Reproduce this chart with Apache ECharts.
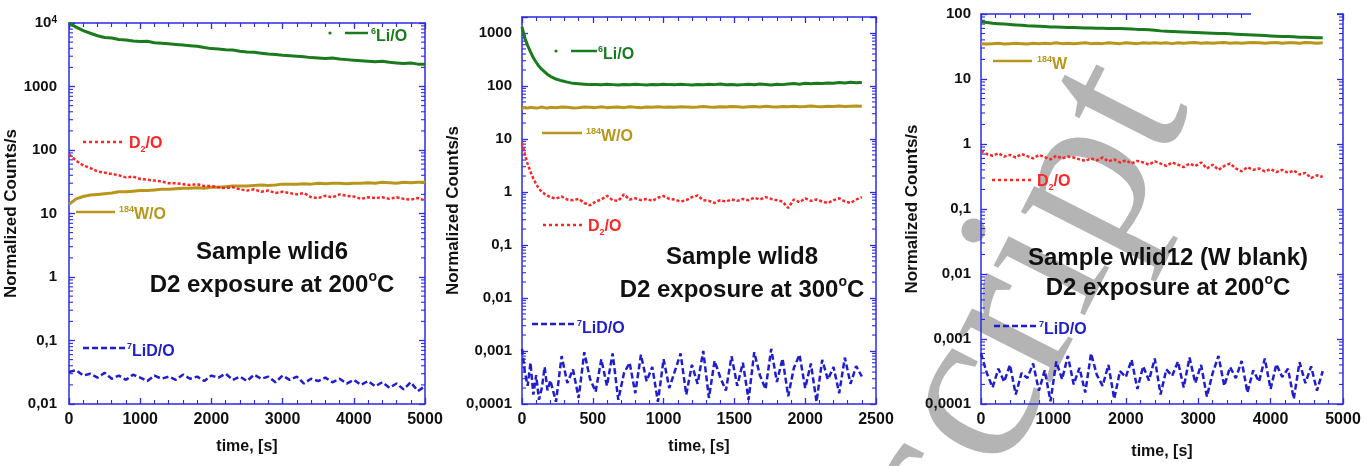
<!DOCTYPE html>
<html>
<head>
<meta charset="utf-8">
<title>Normalized counts vs time</title>
<script src="https://cdn.jsdelivr.net/npm/echarts@6/dist/echarts.min.js"></script>
<style>
  html, body { margin: 0; padding: 0; background: #ffffff; }
  #chart { width: 1367px; height: 466px; }
</style>
</head>
<body>
<div id="chart"></div>
<script>
// ---- Sample wlid6, D2 exposure at 200 C ----
const time1 = [0,100,200,300,400,500,600,700,800,900,1000,1100,1200,1300,1400,1500,1600,1700,1800,1900,2000,2100,2200,2300,2400,2500,2600,2700,2800,2900,3000,3100,3200,3300,3400,3500,3600,3700,3800,3900,4000,4100,4200,4300,4400,4500,4600,4700,4800,4900,5000];
const li6_1 = [10000,8600,7600,6900,6300,5900,5800,5500,5400,5200,5100,5150,4900,4800,4700,4600,4500,4400,4300,4100,3950,3900,3800,3750,3600,3500,3450,3350,3250,3200,3100,3050,3000,2950,2850,2800,2750,2800,2700,2650,2600,2550,2500,2450,2500,2400,2350,2300,2350,2250,2250];
const d2o_1 = [85,68,57,52,46,44,42,40,37,38,35,34,33,32,30,30,29,28,29,27,27,26,25,26,24,23,24,22,23,21,22,21,20,21,18,17.5,19,18,20,19,18.5,17,18,17.5,18,17,18,17,16.5,17.5,16];
const w184_1 = [14,17,18.5,19.5,20,20.5,21,22,22,22.5,23,23,23.5,24,24,24.5,25,25,25.5,25,26,26,26.5,27,27,27,27.5,28,27.5,28,29,29,29,29.5,29,30,29.5,30,30,29.5,30,30,30.5,30,31,30.5,30,31,30.5,31,31];
const lid7_1 = [0.032,0.034,0.028,0.030,0.026,0.031,0.025,0.028,0.024,0.029,0.026,0.023,0.028,0.025,0.027,0.024,0.029,0.025,0.027,0.023,0.028,0.026,0.030,0.024,0.027,0.023,0.029,0.025,0.027,0.022,0.028,0.024,0.027,0.021,0.025,0.023,0.026,0.022,0.025,0.021,0.024,0.020,0.023,0.019,0.022,0.018,0.021,0.017,0.022,0.016,0.019];

// ---- Sample wlid8, D2 exposure at 300 C ----
const time2 = [0,20,40,60,80,100,120,140,160,180,200,240,280,320,360,400,440,480,520,560,600,640,680,720,760,800,840,880,920,960,1000,1040,1080,1120,1160,1200,1240,1280,1320,1360,1400,1440,1480,1520,1560,1600,1640,1680,1720,1760,1800,1840,1880,1920,1960,2000,2040,2080,2120,2160,2200,2240,2280,2320,2360,2400];
const li6_2 = [1300,800,580,440,340,280,235,205,185,165,152,135,125,118,112,110,108,106,107,105,108,106,104,107,105,108,106,104,107,105,108,106,105,108,106,104,107,105,108,106,109,105,107,104,106,108,105,109,107,104,108,106,109,111,108,112,110,113,111,114,112,116,114,117,115,116];
const w184_2 = [38,39,38.5,39.5,39,38.5,39,40,39,38.5,39.5,39,40,39.5,38.5,39,40,39.5,39,40.5,39,39.5,40,39,40.5,39.5,39,40,39.5,40.5,39.5,40,39.5,40.5,40,39.5,40,41,40,39.5,40.5,40,41,40.5,39.5,40.5,41,40,41.5,40.5,40,41,40.5,41.5,40.5,41,42,41,40.5,41.5,41,42,41,41.5,42,41.5];
const d2o_2 = [8.5,5.2,3.4,2.4,1.8,1.4,1.15,1.0,0.92,0.85,0.8,0.75,0.82,0.72,0.7,0.74,0.62,0.56,0.66,0.72,0.85,0.7,0.68,0.9,0.72,0.76,0.7,0.74,0.68,0.78,0.84,0.74,0.72,0.66,0.7,0.8,0.86,0.7,0.68,0.62,0.7,0.66,0.72,0.68,0.74,0.7,0.78,0.72,0.8,0.74,0.7,0.66,0.5,0.72,0.64,0.76,0.68,0.72,0.66,0.62,0.7,0.76,0.66,0.62,0.72,0.8];
const lid7_2 = [0.0011,0.0004,0.00022,0.0006,0.00015,0.00035,0.00012,0.0002,0.0005,0.00018,0.00028,0.00011,0.0008,0.00025,0.00045,0.00013,0.00095,0.0003,0.00017,0.0007,0.00022,0.0009,0.00012,0.00038,0.0006,0.00016,0.00085,0.00027,0.0005,0.00011,0.0007,0.0002,0.00042,0.0009,0.00015,0.00055,0.00024,0.001,0.00013,0.00065,0.00032,0.00018,0.0008,0.00022,0.0006,0.00012,0.00095,0.00035,0.00019,0.0011,0.00026,0.00072,0.00014,0.00048,0.00085,0.0002,0.00058,0.00011,0.00068,0.00029,0.0005,0.00016,0.00075,0.00024,0.00052,0.00033];

// ---- Sample wlid12 (W blank), D2 exposure at 200 C ----
const time3 = [0,80,160,240,320,400,480,560,640,720,800,880,960,1040,1120,1200,1280,1360,1440,1520,1600,1680,1760,1840,1920,2000,2080,2160,2240,2320,2400,2480,2560,2640,2720,2800,2880,2960,3040,3120,3200,3280,3360,3440,3520,3600,3680,3760,3840,3920,4000,4080,4160,4240,4320,4400,4480,4560,4640,4720];
const li6_3 = [76,74,72,71,70,69,68,67,66,65.5,65,64,63,63,62.5,62,62,61.5,61,61,60.5,60.5,60,60,60,59.5,59,58,57.5,57,56,55,54.5,54,53.5,53,52.5,52,51.5,51,50.5,50,50,49.5,49,48.5,48,47.5,47,46.5,46,45.5,45,45,44.5,44,44,43.5,43,43];
const w184_3 = [35,34.5,35,35.5,34.5,35,35.5,35,34.5,35.5,35,35.5,35,36,35,35.5,35,35.5,36,35,35.5,35,36,35.5,35,36,35.5,35,36,35.5,36,35.5,36,35,36,35.5,36,36.5,35.5,36,35.5,36,36.5,35.5,36,35.5,36,36.5,36,35.5,36,36.5,35.5,36,36,35.5,36.5,36,35.5,36];
const d2o_3 = [0.78,0.7,0.66,0.72,0.64,0.68,0.62,0.7,0.65,0.6,0.68,0.63,0.58,0.66,0.6,0.64,0.62,0.58,0.55,0.6,0.56,0.62,0.54,0.58,0.52,0.56,0.5,0.55,0.52,0.48,0.54,0.5,0.46,0.52,0.48,0.44,0.5,0.46,0.52,0.42,0.48,0.4,0.46,0.5,0.42,0.38,0.44,0.4,0.42,0.38,0.41,0.37,0.4,0.36,0.39,0.34,0.36,0.3,0.33,0.31];
const lid7_3 = [0.0006,0.0003,0.00018,0.00035,0.00022,0.0004,0.00014,0.0003,0.00025,0.00042,0.00016,0.00033,0.00011,0.00045,0.00024,0.00055,0.0002,0.00036,0.00015,0.0006,0.00028,0.00019,0.0004,0.00012,0.00032,0.00026,0.00048,0.00017,0.00038,0.00023,0.0005,0.00014,0.00034,0.00027,0.00045,0.00018,0.00052,0.00021,0.0004,0.00013,0.0003,0.00055,0.00019,0.00037,0.00025,0.00046,0.00015,0.00033,0.00022,0.0005,0.00017,0.00041,0.00026,0.00035,0.00012,0.00044,0.00021,0.00038,0.00016,0.00032];

// Panel captions
const captions = [
  ['Sample wlid6', 'D2 exposure at 200'],
  ['Sample wlid8', 'D2 exposure at 300'],
  ['Sample wlid12 (W blank)', 'D2 exposure at 200']
];

// Mantissas of the minor ticks inside each decade of the log axes
const minorMantissas = [2, 3, 4, 5, 6, 7, 8, 9];

const FONT = "'Liberation Sans', Arial, sans-serif";
const AXIS_BLUE = '#2b2be6';
const C_LI6 = '#1c7a1e';
const C_W = '#b8961c';
const C_D2 = '#ff2424';
const C_LID = '#1e1ecc';

const panels = [
  { grid: { left: 69, top: 23, width: 356, height: 381 }, xMax: 5000, xInt: 1000, yMin: 0.01, yMax: 10000,
    labelMargin: 12, yNameGap: 43, xNameGap: 35,
    time: time1, li6: li6_1, w: w184_1, d2: d2o_1, lid: lid7_1 },
  { grid: { left: 522, top: 17, width: 354, height: 387 }, xMax: 2500, xInt: 500, yMin: 0.0001, yMax: 2000,
    labelMargin: 10, yNameGap: 51, xNameGap: 35,
    time: time2, li6: li6_2, w: w184_2, d2: d2o_2, lid: lid7_2 },
  { grid: { left: 981, top: 14, width: 362, height: 390 }, xMax: 5000, xInt: 1000, yMin: 0.0001, yMax: 100,
    labelMargin: 10, yNameGap: 47, xNameGap: 40,
    time: time3, li6: li6_3, w: w184_3, d2: d2o_3, lid: lid7_3 }
];

// Decimal comma labels for the log axis, 10^4 written with an exponent
function logLabel(v) {
  const lg = Math.log10(v);
  const e = Math.round(lg);
  if (Math.abs(lg - e) > 1e-6) return '';
  if (e >= 4) return '10{sup|' + e + '}';
  if (e >= 0) return String(Math.pow(10, e));
  return Math.pow(10, e).toFixed(-e).replace('.', ',');
}

// Values of the 2..9 x 10^k minor ticks that fall inside an axis range
function logMinorValues(min, max) {
  const out = [];
  for (let e = Math.floor(Math.log10(min)); e <= Math.ceil(Math.log10(max)); e++) {
    minorMantissas.forEach(m => {
      const v = m * Math.pow(10, e);
      if (v > min * 1.0001 && v < max * 0.9999) out.push(v);
    });
  }
  return out;
}

const tickCommon = {
  axisLine: { show: true, onZero: false, lineStyle: { color: AXIS_BLUE, width: 1.5 } },
  axisTick: { show: true, inside: true, length: 6, lineStyle: { color: AXIS_BLUE, width: 1.3 } },
  splitLine: { show: false },
  minorSplitLine: { show: false }
};

const grids = [], xAxes = [], yAxes = [], series = [];

panels.forEach((p, i) => {
  grids.push(Object.assign({ containLabel: false }, p.grid));
  const xBase = Object.assign({}, tickCommon, {
    gridIndex: i, type: 'value', min: 0, max: p.xMax, interval: p.xInt,
    minorTick: { show: true, splitNumber: 5, length: 4, lineStyle: { color: AXIS_BLUE, width: 1.1 } }
  });
  xAxes.push(Object.assign({}, xBase, {
    position: 'bottom',
    axisLabel: { color: '#111', fontFamily: FONT, fontWeight: 'bold', fontSize: 16, margin: 8,
                 formatter: v => String(v) },
    name: 'time, [s]', nameLocation: 'middle', nameGap: p.xNameGap,
    nameTextStyle: { color: '#111', fontFamily: FONT, fontWeight: 'bold', fontSize: 16 }
  }));
  xAxes.push(Object.assign({}, xBase, { position: 'top', axisLabel: { show: false } }));

  const yBase = Object.assign({}, tickCommon, {
    gridIndex: i, type: 'log', logBase: 10, min: p.yMin, max: p.yMax,
    minorTick: { show: false }
  });
  yAxes.push(Object.assign({}, yBase, {
    position: 'left',
    axisLabel: {
      color: '#111', fontFamily: FONT, fontWeight: 'bold', fontSize: 15, margin: p.labelMargin,
      formatter: logLabel,
      rich: { sup: { fontSize: 10, fontWeight: 'bold', fontFamily: FONT, color: '#111', verticalAlign: 'top', lineHeight: 10 } }
    },
    name: 'Normalized Counts/s', nameLocation: 'middle', nameGap: p.yNameGap, nameRotate: 90,
    nameTextStyle: { color: '#111', fontFamily: FONT, fontWeight: 'bold', fontSize: 17 }
  }));
  yAxes.push(Object.assign({}, yBase, { position: 'right', axisLabel: { show: false } }));

  const ax = i * 2;

  // log-spaced minor ticks on the left and right frame edges
  series.push({
    type: 'custom', xAxisIndex: ax, yAxisIndex: ax, silent: true, z: 1,
    data: logMinorValues(p.yMin, p.yMax).map(v => [0, v]),
    renderItem: (params, api) => {
      const v = api.value(1);
      const l = api.coord([0, v]);
      const r = api.coord([p.xMax, v]);
      const st = { stroke: AXIS_BLUE, lineWidth: 1.1 };
      return { type: 'group', children: [
        { type: 'line', shape: { x1: l[0], y1: l[1], x2: l[0] + 4, y2: l[1] }, style: st },
        { type: 'line', shape: { x1: r[0] - 4, y1: r[1], x2: r[0], y2: r[1] }, style: st }
      ] };
    }
  });

  const mk = (name, vals, color, width, type) => ({
    name: name, type: 'line', xAxisIndex: ax, yAxisIndex: ax,
    data: p.time.map((t, k) => [t, vals[k]]),
    showSymbol: false, symbol: 'none', z: 3,
    lineStyle: { color: color, width: width, type: type },
    itemStyle: { color: color }
  });
  series.push(mk('6Li/O', p.li6, C_LI6, 3, 'solid'));
  series.push(mk('184W/O', p.w, C_W, 3, 'solid'));
  series.push(mk('D2/O', p.d2, C_D2, 2.5, [3, 2]));
  series.push(mk('7LiD/O', p.lid, C_LID, 2.5, [6, 3]));
});

// Inline legend entries: sample line followed by the species label
const richLbl = {
  n: { fontSize: 16, fontWeight: 'bold', fontFamily: FONT, lineHeight: 20, verticalAlign: 'middle' },
  sup: { fontSize: 9, fontWeight: 'bold', fontFamily: FONT, lineHeight: 9, verticalAlign: 'top' },
  sub: { fontSize: 9, fontWeight: 'bold', fontFamily: FONT, lineHeight: 9, verticalAlign: 'bottom' }
};
function legendEntry(x1, x2, y, color, dash, label, tx, ty, dotX) {
  const children = [
    { type: 'line', shape: { x1: x1, y1: y, x2: x2, y2: y },
      style: { stroke: color, lineWidth: 2.5, lineDash: dash } },
    { type: 'text', x: tx, y: ty,
      style: { text: label, rich: richLbl, fill: color, font: 'bold 16px ' + FONT, verticalAlign: 'middle', align: 'left' } }
  ];
  if (dotX != null) {
    children.push({ type: 'circle', shape: { cx: dotX, cy: y, r: 1.6 }, style: { fill: color } });
  }
  return { type: 'group', z: 10, children: children };
}

const LBL_LI6 = '{sup|6}{n|Li/O}';
const LBL_W = '{sup|184}{n|W/O}';
const LBL_D2 = '{n|D}{sub|2}{n|/O}';
const LBL_LID = '{sup|7}{n|LiD/O}';

const legendGraphics = [
  legendEntry(345, 368, 33, C_LI6, null, LBL_LI6, 371, 37, 330),
  legendEntry(83, 125, 142, C_D2, [3, 3], LBL_D2, 129, 144),
  legendEntry(76, 115, 212, C_W, null, LBL_W, 119, 215),
  legendEntry(83, 125, 348, C_LID, [6, 3], LBL_LID, 127, 352),

  legendEntry(571, 597, 51, C_LI6, null, LBL_LI6, 598, 55, 556),
  legendEntry(542, 582, 133, C_W, null, LBL_W, 586, 137),
  legendEntry(543, 583, 225, C_D2, [3, 3], LBL_D2, 588, 227),
  legendEntry(532, 575, 324, C_LID, [6, 3], LBL_LID, 577, 329),

  { type: 'rect', z: 9, shape: { x: 1251, y: 6, width: 86, height: 26 }, style: { fill: '#ffffff' } },
  legendEntry(1268, 1293, 19, C_LI6, null, LBL_LI6, 1296, 23, 1256),
  legendEntry(993, 1032, 61, C_W, null, '{sup|184}{n|W}', 1037, 65),
  legendEntry(992, 1032, 180, C_D2, [3, 3], LBL_D2, 1037, 182),
  legendEntry(994, 1037, 326, C_LID, [6, 3], LBL_LID, 1039, 330)
];

// Panel captions
const capRich = {
  a: { fontSize: 24, fontWeight: 'bold', fontFamily: FONT, fill: '#111', lineHeight: 30, verticalAlign: 'middle' },
  o: { fontSize: 14, fontWeight: 'bold', fontFamily: FONT, fill: '#111', lineHeight: 14, verticalAlign: 'top' }
};
const capPos = [[272, 252, 285], [742, 257, 290], [1168, 258, 288]];
const captionGraphics = [];
captions.forEach((c, i) => {
  const [cx, y1, y2] = capPos[i];
  captionGraphics.push({ type: 'text', z: 10, x: cx, y: y1,
    style: { text: c[0], font: 'bold 24px ' + FONT, fill: '#111', align: 'center', verticalAlign: 'middle' } });
  captionGraphics.push({ type: 'text', z: 10, x: cx, y: y2,
    style: { text: '{a|' + c[1] + '}{o|o}{a|C}', rich: capRich, fill: '#111', align: 'center', verticalAlign: 'middle' } });
});

// Grey repository stamp across the right-hand panel, kept beneath the plot content
const stamp = {
  type: 'text', z: -1, x: 1138, y: 80, rotation: 63 * Math.PI / 180,
  style: { text: 'Manuscript', font: '226px "Liberation Serif", "Times New Roman", serif',
           fill: 'rgba(172,172,172,0.9)', align: 'right', verticalAlign: 'middle' }
};

const chart = echarts.init(document.getElementById('chart'), null, { renderer: 'canvas' });
chart.setOption({
  animation: false,
  backgroundColor: '#ffffff',
  grid: grids,
  xAxis: xAxes,
  yAxis: yAxes,
  series: series,
  graphic: [stamp].concat(legendGraphics, captionGraphics)
});
</script>
</body>
</html>
